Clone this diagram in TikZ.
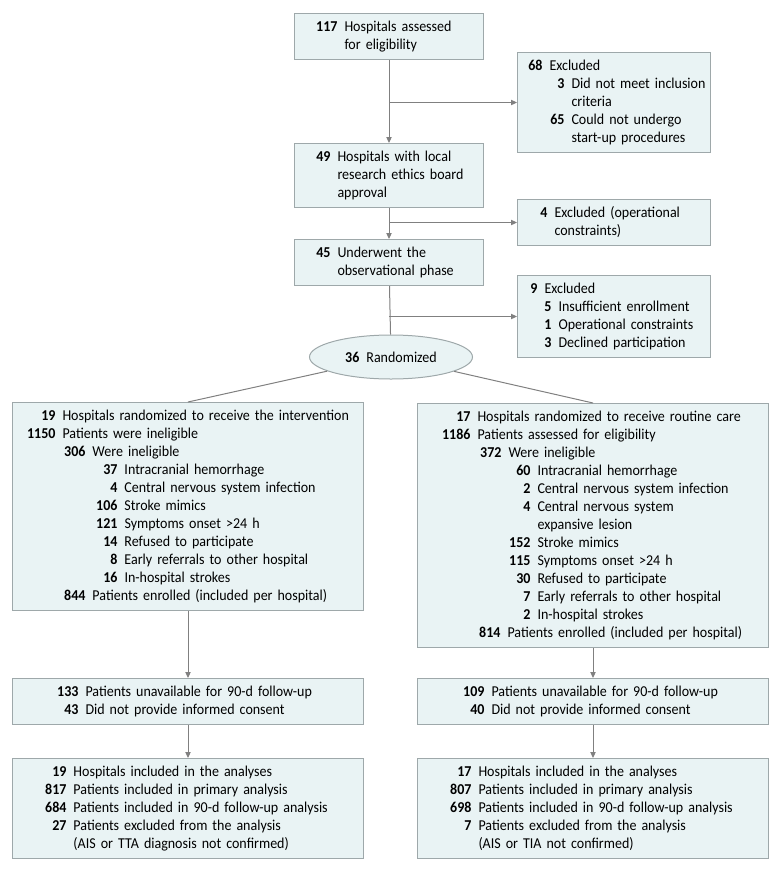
\documentclass[tikz,border=0pt]{standalone}
\usepackage{fontspec}
\setmainfont{Carlito}[FakeStretch=0.93]
\usetikzlibrary{arrows.meta,shapes.geometric}

\definecolor{boxfill}{RGB}{233,243,244}
\definecolor{boxline}{RGB}{158,168,170}
\definecolor{linegray}{RGB}{128,128,128}

\newlength\pxu
\setlength\pxu{0.75pt}
% one row: text starts at #1 px from the left edge, bold number right before it
\newcommand\nr[3]{\strut\makebox[\dimexpr#1\pxu-7\pxu\relax][r]{\bfseries #2}\hspace{7\pxu}#3}

\tikzset{
  box/.style={draw=boxline, fill=boxfill, line width=0.75pt, anchor=north west,
    inner xsep=0pt, inner ysep=3.75pt, align=left,
    font=\fontsize{11.3}{13.5}\selectfont},
  arr/.style={draw=linegray, line width=0.75pt, -{Triangle[length=4.5pt,width=4pt]}},
  link/.style={draw=linegray, line width=0.75pt}
}

\begin{document}
\begin{tikzpicture}[x=0.75pt,y=-0.75pt]

    % page size of the reference
    \useasboundingbox (0,0) rectangle (780,872);

    % hospital level, centre column
    \node[box, text width=189\pxu] (hosp) at (294,13)
        {\nr{50}{117}{Hospitals assessed}\\ \nr{50}{}{for eligibility}};
    \node[box, text width=189\pxu] (ethics) at (294,143)
        {\nr{43}{49}{Hospitals with local}\\ \nr{43}{}{research ethics board}\\ \nr{43}{}{approval}};
    \node[box, text width=189\pxu] (obs) at (294,239)
        {\nr{43}{45}{Underwent the}\\ \nr{43}{}{observational phase}};

    % exclusions, right column
    \node[box, text width=193\pxu] (excla) at (517,52)
        {\nr{32}{68}{Excluded}\\ \nr{54}{3}{Did not meet inclusion}\\ \nr{54}{}{criteria}\\
         \nr{54}{65}{Could not undergo}\\ \nr{54}{}{start-up procedures}};
    \node[box, text width=193\pxu] (exclb) at (517,199)
        {\nr{37}{4}{Excluded (operational}\\ \nr{37}{}{constraints)}};
    \node[box, text width=193\pxu] (exclc) at (517,275)
        {\nr{27}{9}{Excluded}\\ \nr{41}{5}{Insufficient enrollment}\\
         \nr{41}{1}{Operational constraints}\\ \nr{41}{3}{Declined participation}};

    % randomization
    \node[ellipse, draw=boxline, fill=boxfill, line width=0.75pt, minimum width=163\pxu,
        minimum height=44\pxu, inner sep=0pt, font=\fontsize{11.3}{13.5}\selectfont]
        (rand) at (391,357) {\textbf{36}\hspace{7\pxu}Randomized};

    % intervention arm
    \node[box, text width=351\pxu] (intv) at (12,402)
        {\nr{50}{19}{Hospitals randomized to receive the intervention}\\
         \nr{50}{1150}{Patients were ineligible}\\
         \nr{80}{306}{Were ineligible}\\
         \nr{112}{37}{Intracranial hemorrhage}\\
         \nr{112}{4}{Central nervous system infection}\\
         \nr{112}{106}{Stroke mimics}\\
         \nr{112}{121}{Symptoms onset >24 h}\\
         \nr{112}{14}{Refused to participate}\\
         \nr{112}{8}{Early referrals to other hospital}\\
         \nr{112}{16}{In-hospital strokes}\\
         \nr{80}{844}{Patients enrolled (included per hospital)}};
    \node[box, text width=351\pxu] (intvlost) at (12,678)
        {\nr{73}{133}{Patients unavailable for 90-d follow-up}\\
         \nr{73}{43}{Did not provide informed consent}};
    \node[box, text width=351\pxu] (intvan) at (12,758)
        {\nr{61}{19}{Hospitals included in the analyses}\\
         \nr{61}{817}{Patients included in primary analysis}\\
         \nr{61}{684}{Patients included in 90-d follow-up analysis}\\
         \nr{61}{27}{Patients excluded from the analysis}\\
         \nr{61}{}{(AIS or TTA diagnosis not confirmed)}};

    % routine care arm
    \node[box, text width=351\pxu] (ctrl) at (417,403)
        {\nr{60}{17}{Hospitals randomized to receive routine care}\\
         \nr{60}{1186}{Patients assessed for eligibility}\\
         \nr{91}{372}{Were ineligible}\\
         \nr{120}{60}{Intracranial hemorrhage}\\
         \nr{120}{2}{Central nervous system infection}\\
         \nr{120}{4}{Central nervous system}\\
         \nr{120}{}{expansive lesion}\\
         \nr{120}{152}{Stroke mimics}\\
         \nr{120}{115}{Symptoms onset >24 h}\\
         \nr{120}{30}{Refused to participate}\\
         \nr{120}{7}{Early referrals to other hospital}\\
         \nr{120}{2}{In-hospital strokes}\\
         \nr{90}{814}{Patients enrolled (included per hospital)}};
    \node[box, text width=351\pxu] (ctrllost) at (417,678)
        {\nr{74}{109}{Patients unavailable for 90-d follow-up}\\
         \nr{74}{40}{Did not provide informed consent}};
    \node[box, text width=351\pxu] (ctrlan) at (417,758)
        {\nr{61}{17}{Hospitals included in the analyses}\\
         \nr{61}{807}{Patients included in primary analysis}\\
         \nr{61}{698}{Patients included in 90-d follow-up analysis}\\
         \nr{61}{7}{Patients excluded from the analysis}\\
         \nr{61}{}{(AIS or TIA not confirmed)}};

    % main flow
    \draw[arr] (hosp) -- (ethics);
    \draw[arr] (ethics) -- (obs);
    \draw[link] (obs) -- (rand);

    % side branches to the exclusions
    \foreach \from/\to in {hosp/excla, ethics/exclb, obs/exclc}
        \draw[arr] (\from.south |- \to.west) -- (\to.west);

    % split into the two arms
    \draw[link] (rand) -- (intv.north);
    \draw[link] (rand) -- (ctrl.north);
    \draw[arr] (intv) -- (intvlost);
    \draw[arr] (intvlost) -- (intvan);
    \draw[arr] (ctrl) -- (ctrllost);
    \draw[arr] (ctrllost) -- (ctrlan);

\end{tikzpicture}
\end{document}
